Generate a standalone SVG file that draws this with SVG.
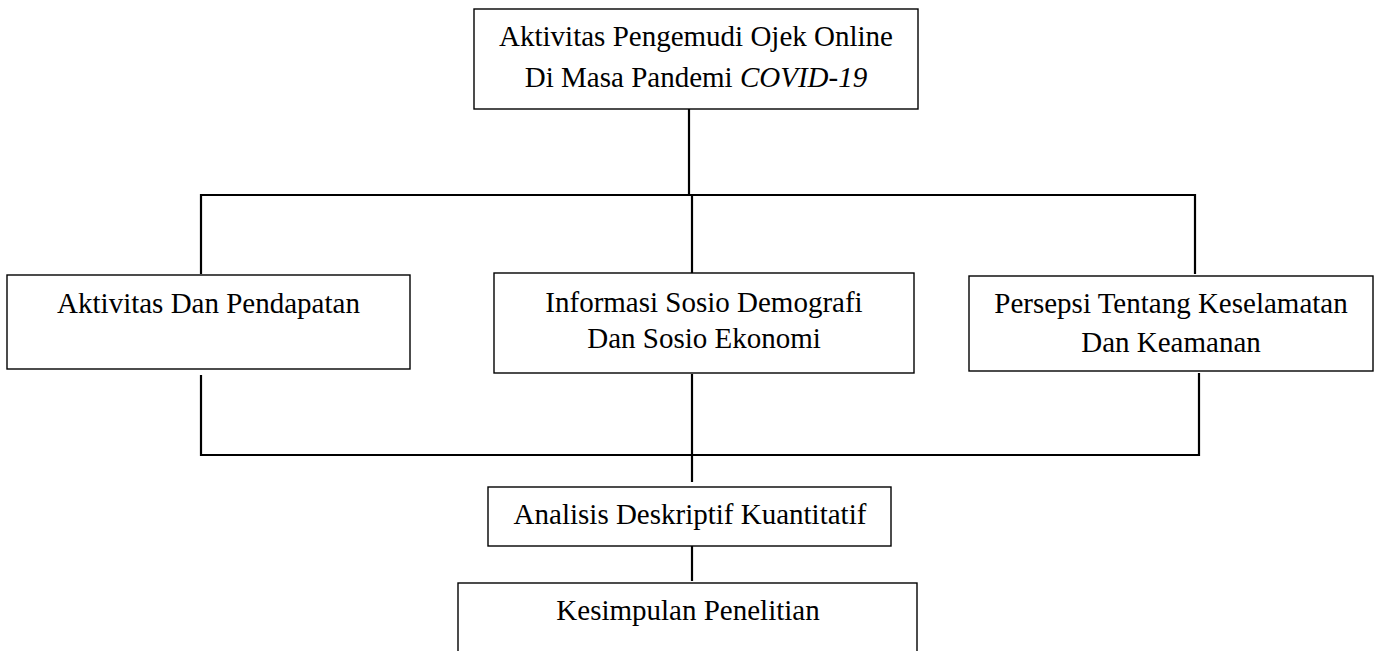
<svg xmlns="http://www.w3.org/2000/svg" width="1381" height="651" viewBox="0 0 1381 651">
<style>
.box{fill:#fff;stroke:#000;stroke-width:1.4}
.t{font-family:"Liberation Serif","Times New Roman",serif;font-size:29px;fill:#000;text-anchor:middle}
.c{stroke:#000;stroke-width:2.2;fill:none}
</style>
<rect width="1381" height="651" fill="#fff"/>
<g id="connectors">
<line class="c" x1="689" y1="109" x2="689" y2="195"/>
<polyline class="c" points="201,274 201,195 1195,195 1195,274"/>
<line class="c" x1="692" y1="195" x2="692" y2="195"/>
<line class="c" x1="692" y1="195" x2="692" y2="273"/>
<polyline class="c" points="201,375 201,455 1199,455 1199,373"/>
<line class="c" x1="692" y1="374" x2="692" y2="482"/>
<line class="c" x1="692" y1="545" x2="692" y2="581"/>
</g>
<g id="node-top">
<rect class="box" x="474" y="9" width="444" height="100"/>
<text class="t" x="696" y="46">Aktivitas Pengemudi Ojek Online</text>
<text class="t" x="696" y="87">Di Masa Pandemi <tspan font-style="italic">COVID-19</tspan></text>
</g>
<g id="node-left">
<rect class="box" x="7" y="275" width="403" height="94"/>
<text class="t" x="208.5" y="313">Aktivitas Dan Pendapatan</text>
</g>
<g id="node-mid">
<rect class="box" x="494" y="273" width="420" height="100"/>
<text class="t" x="704" y="312">Informasi Sosio Demografi</text>
<text class="t" x="704" y="348">Dan Sosio Ekonomi</text>
</g>
<g id="node-right">
<rect class="box" x="969" y="276" width="404" height="95"/>
<text class="t" x="1171" y="313">Persepsi Tentang Keselamatan</text>
<text class="t" x="1171" y="352">Dan Keamanan</text>
</g>
<g id="node-analisis">
<rect class="box" x="488" y="487" width="403" height="59"/>
<text class="t" x="690" y="524">Analisis Deskriptif Kuantitatif</text>
</g>
<g id="node-kesimpulan">
<rect class="box" x="458" y="583" width="459" height="80"/>
<text class="t" x="688" y="620">Kesimpulan Penelitian</text>
</g>
</svg>
